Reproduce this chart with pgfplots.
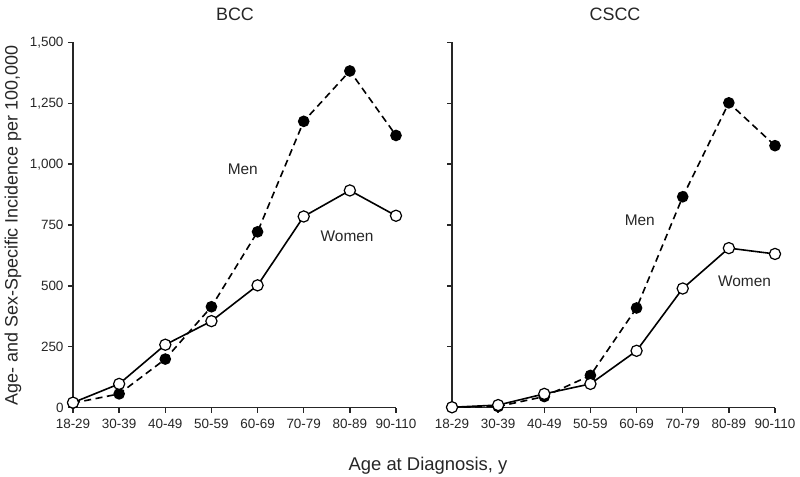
\documentclass[border=0pt]{standalone}
\usepackage{pgfplots}
\pgfplotsset{compat=1.18}
\usepackage{fontspec}
\setmainfont{Liberation Sans}
\begin{document}
\begin{tikzpicture}
\path[use as bounding box] (0bp,0bp) rectangle (800bp,477bp);
\pgfplotsset{
  myax/.style={
    scale only axis, width=323bp, height=365bp,
    xmin=0, xmax=7, ymin=0, ymax=1500,
    axis x line*=bottom, axis y line*=left,
    xtick={0,1,2,3,4,5,6,7},
    xticklabels={18-29,30-39,40-49,50-59,60-69,70-79,80-89,90-110},
    ytick={0,250,500,750,1000,1250,1500},
    tick align=outside, major tick length=5bp,
    axis line style={line width=1.5bp, color=black!85},
    every tick/.style={line width=1.5bp, color=black!85},
    tick label style={font=\fontsize{13.5}{15}\selectfont, color=black!85},
    xticklabel style={yshift=-3bp},
    yticklabel style={xshift=-1bp},
    clip=false,
  },
  men/.style={black, line width=1.6bp, dash pattern=on 7bp off 4.5bp,
    mark=*, mark size=5bp, mark options={solid, fill=black}},
  women/.style={black, line width=1.6bp,
    mark=*, mark size=5.6bp, mark options={solid, fill=white, line width=1.2bp}},
}
\begin{axis}[myax, at={(73bp,69.5bp)}, anchor=south west,
  yticklabels={0,250,500,750,{1,000},{1,250},{1,500}}]
\addplot[men] coordinates {(0,18) (1,56) (2,199) (3,414) (4,722) (5,1176) (6,1383) (7,1118)};
\addplot[women] coordinates {(0,20) (1,97) (2,258) (3,355) (4,502) (5,785) (6,892) (7,788)};
\node[font=\fontsize{15.5}{17}\selectfont, color=black!85] at (axis cs:3.68,981) {Men};
\node[font=\fontsize{15.5}{17}\selectfont, color=black!85] at (axis cs:5.94,702) {Women};
\end{axis}
\begin{axis}[myax, at={(452bp,69.5bp)}, anchor=south west, yticklabels={}]
\addplot[men] coordinates {(0,1) (1,4) (2,45) (3,132) (4,409) (5,866) (6,1252) (7,1076)};
\addplot[women] coordinates {(0,1) (1,10) (2,56) (3,97) (4,233) (5,489) (6,655) (7,631)};
\node[font=\fontsize{15.5}{17}\selectfont, color=black!85] at (axis cs:4.07,768) {Men};
\node[font=\fontsize{15.5}{17}\selectfont, color=black!85] at (axis cs:6.34,517) {Women};
\end{axis}
\node[anchor=base, font=\fontsize{18}{20}\selectfont, color=black!85] at (235bp,456.5bp) {BCC};
\node[anchor=base, font=\fontsize{18}{20}\selectfont, color=black!85] at (615bp,456.5bp) {CSCC};
\node[anchor=base, font=\fontsize{18.5}{20}\selectfont, color=black!85] at (428bp,6.5bp) {Age at Diagnosis, y};
\node[anchor=base, rotate=90, font=\fontsize{18}{20}\selectfont, color=black!85] at (17.5bp,251.5bp) {Age- and Sex-Specific Incidence per 100,000};
\end{tikzpicture}
\end{document}
